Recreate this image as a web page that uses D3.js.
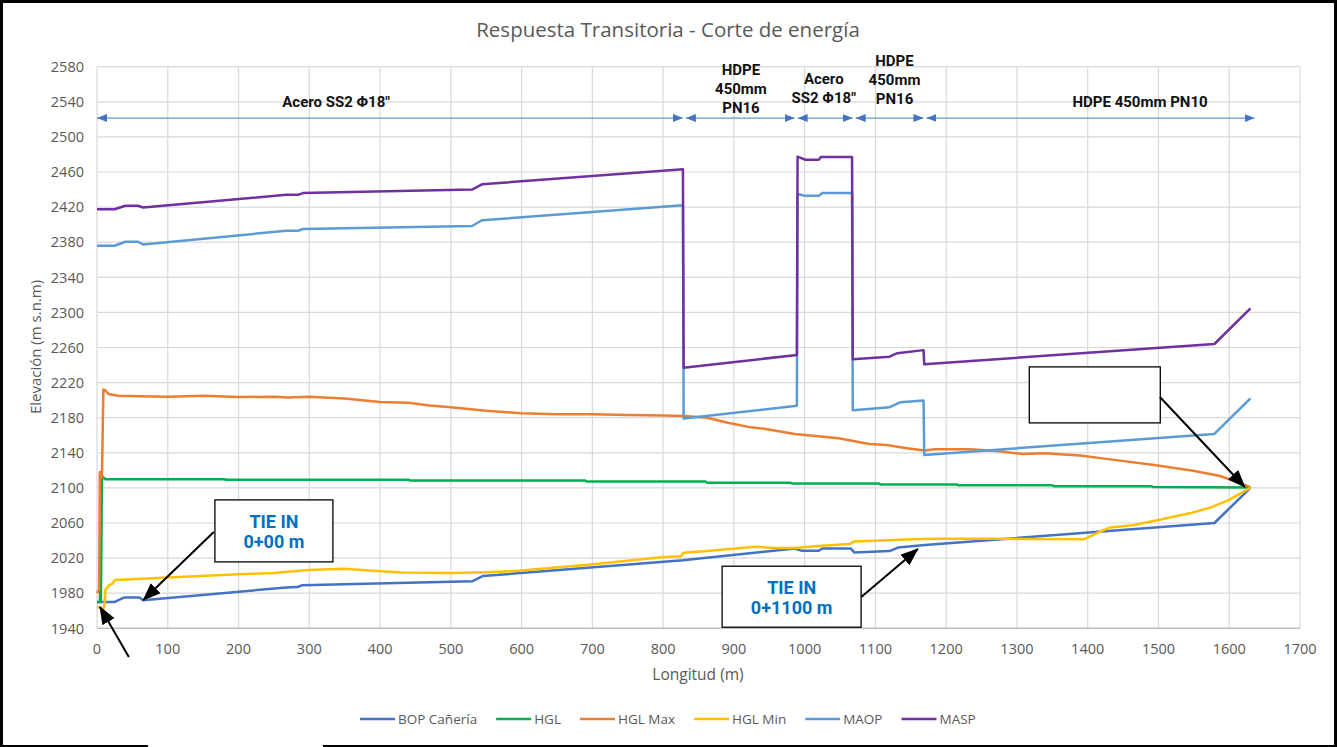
<!DOCTYPE html>
<html lang="es">
<head>
<meta charset="UTF-8">
<title>Respuesta Transitoria - Corte de energía</title>
<script src="https://d3js.org/d3.v7.min.js"></script>
<style>
  html, body { margin: 0; padding: 0; background: #000; }
  svg { display: block; }
  .tick-label { font-family: "Open Sans", "Noto Sans", sans-serif; font-size: 14.5px; fill: #595959; }
  .legend-label { font-family: "Open Sans", "Noto Sans", sans-serif; font-size: 13.5px; fill: #595959; }
  .note { font-family: "Liberation Sans Narrow", "Roboto", sans-serif; font-weight: bold; font-size: 15px; fill: #111; }
  .tie { font-family: "Liberation Sans Narrow", "Roboto", sans-serif; font-weight: bold; font-size: 18px; fill: #0070C0; }
</style>
</head>
<body>
<svg id="chart" width="1337" height="747"></svg>
<script>
// ---- data (longitud m, elevación m s.n.m) ----
const xTicks = d3.range(0, 1701, 100);
const yTicks = d3.range(1940, 2581, 40);

const bop = [[0,1970],[25,1970],[38,1975],[60,1975],[65,1972],[267,1986.5],[283,1987],[290,1989],[530,1993.5],[545,1999.5],
  [828,2017.5],[986,2031],[995,2028.5],[1020,2028.5],[1025,2031],[1065,2031],[1070,2026.5],[1120,2028],[1132,2032],
  [1170,2035],[1579,2060],[1630,2100]];

const hgl = [[0,1970],[4,1970],[4.5,1984],[5.5,1972],[7,2113],[12,2110],[180,2110],[182,2109.3],[440,2109.3],[442,2108.5],
  [690,2108.5],[692,2107.3],[860,2107.3],[862,2106],[980,2106],[982,2105],[1105,2105],[1107,2104],[1215,2104],[1217,2103],
  [1350,2103],[1352,2102],[1490,2102],[1492,2101],[1630,2100.5]];

const hglMax = [[0,1980],[3,1984],[4,2118],[6,2118],[7,2112],[9,2212],[12,2211],[16,2207],[30,2205],[60,2204.5],[100,2204],
  [150,2205],[200,2203.5],[250,2204],[270,2203],[300,2204],[320,2203],[350,2202],[400,2198],[440,2197],[470,2194],[500,2192],
  [550,2188],[600,2185],[650,2184],[700,2184],[750,2183],[800,2182.5],[830,2182],[862,2180],[893,2174],[924,2169],[943,2167.5],
  [986,2161.5],[1048,2156.5],[1091,2150],[1116,2149],[1147,2145],[1169,2142.5],[1184,2144],[1234,2144],[1271,2142],
  [1308,2138.5],[1339,2139.5],[1389,2137],[1432,2132.5],[1494,2126],[1549,2119.5],[1587,2113.5],[1614,2106],[1630,2100.5]];

const hglMin = [[0,1964],[4,1964],[7,1962],[10,1963],[12,1984],[17,1989],[22,1991],[25,1995],[50,1996],[100,1998],
  [200,2001.5],[250,2003],[298,2006.5],[349,2008],[400,2005],[431,2003.5],[500,2003],[550,2004],[595,2005.5],[702,2013],
  [797,2021],[825,2022],[829,2026],[862,2028],[930,2033],[955,2031.5],[986,2031.5],[1023,2034],[1063,2036],[1070,2039],
  [1154,2041.5],[1184,2042],[1277,2042],[1395,2041.5],[1417,2050],[1432,2055],[1463,2057.5],[1500,2063.5],[1544,2071],
  [1575,2078],[1599,2086],[1630,2100]];

const maop = [[0,2376],[25,2376],[40,2380.5],[58,2380.5],[65,2377.5],[267,2393],[284,2393],[291,2395],[530,2398.5],
  [544,2405],[828,2422],[829,2179],[989,2193.5],[990,2435],[1000,2433],[1020,2433],[1025,2436],[1067,2436],[1068,2188.5],
  [1120,2192],[1135,2197.5],[1168,2199.5],[1169,2137.5],[1579,2161.5],[1630,2202]];

const masp = [[0,2417.5],[25,2417.5],[40,2421.5],[58,2421.5],[65,2419.5],[267,2434],[284,2434],[291,2436],[530,2440],
  [544,2446],[828,2463],[829,2237],[989,2251.5],[990,2477.5],[1001,2474],[1020,2474],[1023,2477],[1067,2477],[1068,2246.5],
  [1120,2249.5],[1131,2253.5],[1168,2257],[1169,2241],[1579,2264],[1630,2304.5]];

const seriesNames = ["BOP Cañería", "HGL", "HGL Max", "HGL Min", "MAOP", "MASP"];
const seriesData = [bop, hgl, hglMax, hglMin, maop, masp];
const seriesColors = ["#4472C4", "#00B050", "#ED7D31", "#FFC000", "#5B9BD5", "#7030A0"];

// tramos de tubería
const spanBreaks = [0, 830, 988, 1070, 1170, 1638];
const spanLabels = [["Acero SS2 Φ18\""], ["HDPE", "450mm", "PN16"], ["Acero", "SS2 Φ18\""], ["HDPE", "450mm", "PN16"], ["HDPE 450mm PN10"]];
const spanLabelX = [338, 910, 1027, 1127, 1474];
const spanLabelTop = [2534, 2570.5, 2560, 2580.8, 2534];

// cuadros y flechas
const boxes = [
  { cx: 250, cy: 2051, w: 118, h: 62, lines: ["TIE IN", "0+00 m"] },
  { cx: 981.6, cy: 1976, w: 139, h: 61, lines: ["TIE IN", "0+1100 m"] },
  { cx: 1410, cy: 2206, w: 131, h: 56, lines: [] }
];
const arrows = [
  [[165, 2049.7], [65.5, 1972.2]],
  [[45, 1907.4], [4.2, 1964.3]],
  [[1080, 1975.7], [1160, 2030.4]],
  [[1502, 2203.6], [1622, 2101]]
];

// ---- layout ----
const svg = d3.select("#chart");

svg.append("rect").attr("x", 3).attr("y", 3).attr("width", 1331).attr("height", 742).attr("fill", "#fff");
svg.append("rect").attr("x", 148).attr("y", 744).attr("width", 175).attr("height", 3).attr("fill", "#fff");

const x = d3.scaleLinear().domain([0, 1700]).range([97, 1300]);
const y = d3.scaleLinear().domain([1940, 2580]).range([628.3, 66.7]);

const defs = svg.append("defs");
defs.append("marker").attr("id", "spanHead").attr("viewBox", "0 0 10 8")
  .attr("refX", 10).attr("refY", 4).attr("markerWidth", 10).attr("markerHeight", 8)
  .attr("markerUnits", "userSpaceOnUse").attr("orient", "auto-start-reverse")
  .append("path").attr("d", "M0,0L10,4L0,8Z").attr("fill", "#4472C4");
defs.append("marker").attr("id", "blackHead").attr("viewBox", "0 0 18 14")
  .attr("refX", 17).attr("refY", 7).attr("markerWidth", 18).attr("markerHeight", 14)
  .attr("markerUnits", "userSpaceOnUse").attr("orient", "auto")
  .append("path").attr("d", "M0,0L18,7L0,14Z").attr("fill", "#000");

// grid
svg.append("g").selectAll("line").data(xTicks).join("line")
  .attr("x1", d => x(d)).attr("x2", d => x(d)).attr("y1", y(2580)).attr("y2", y(1940))
  .attr("stroke", "#D9D9D9").attr("stroke-width", 1.2);
svg.append("g").selectAll("line").data(yTicks).join("line")
  .attr("x1", x(0)).attr("x2", x(1700)).attr("y1", d => y(d)).attr("y2", d => y(d))
  .attr("stroke", d => d === 1940 ? "#BFBFBF" : "#D9D9D9").attr("stroke-width", d => d === 1940 ? 1.5 : 1.2);

// axis labels
svg.append("g").selectAll("text").data(yTicks).join("text")
  .attr("class", "tick-label").attr("x", 84).attr("y", d => y(d)).attr("dy", "0.36em")
  .attr("text-anchor", "end").text(d => d);
svg.append("g").selectAll("text").data(xTicks).join("text")
  .attr("class", "tick-label").attr("x", d => x(d)).attr("y", 654)
  .attr("text-anchor", "middle").text(d => d);

svg.append("text").attr("x", 668).attr("y", 37).attr("text-anchor", "middle")
  .attr("font-family", "Open Sans, Noto Sans, sans-serif").attr("font-size", 20.5).attr("fill", "#595959")
  .text("Respuesta Transitoria - Corte de energía");
svg.append("text").attr("x", 698).attr("y", 680).attr("text-anchor", "middle")
  .attr("font-family", "Open Sans, Noto Sans, sans-serif").attr("font-size", 15.5).attr("fill", "#595959")
  .text("Longitud (m)");
svg.append("text").attr("transform", "translate(41,347) rotate(-90)").attr("text-anchor", "middle")
  .attr("font-family", "Open Sans, Noto Sans, sans-serif").attr("font-size", 15).attr("fill", "#595959")
  .text("Elevación (m s.n.m)");

// series
const line = d3.line().x(d => x(d[0])).y(d => y(d[1]));
svg.append("g").selectAll("path").data(seriesData).join("path")
  .attr("d", line).attr("fill", "none")
  .attr("stroke", (d, i) => seriesColors[i]).attr("stroke-width", 2.5)
  .attr("stroke-linejoin", "round");

// span arrows
const spanY = y(2521.5);
const spans = d3.pairs(spanBreaks);
svg.append("g").selectAll("line").data(spans).join("line")
  .attr("x1", d => x(d[0]) + (d[0] === 0 ? 0 : 1.5)).attr("x2", d => x(d[1]) - 1.5)
  .attr("y1", spanY).attr("y2", spanY)
  .attr("stroke", "#5B9BD5").attr("stroke-width", 1.3)
  .attr("marker-start", "url(#spanHead)").attr("marker-end", "url(#spanHead)");

spanLabels.forEach((lines, i) => {
  const t = svg.append("text").attr("class", "note").attr("text-anchor", "middle")
    .attr("x", x(spanLabelX[i])).attr("y", y(spanLabelTop[i]));
  lines.forEach((s, j) => t.append("tspan").attr("x", x(spanLabelX[i])).attr("dy", j === 0 ? 0 : 19).text(s));
});

// boxes
const bg = svg.append("g").selectAll("g").data(boxes).join("g");
bg.append("rect")
  .attr("x", d => x(d.cx) - d.w / 2).attr("y", d => y(d.cy) - d.h / 2)
  .attr("width", d => d.w).attr("height", d => d.h)
  .attr("fill", "#fff").attr("stroke", "#000").attr("stroke-width", 1.3);
bg.each(function(d) {
  const g = d3.select(this);
  d.lines.forEach((s, j) => {
    g.append("text").attr("class", "tie").attr("text-anchor", "middle")
      .attr("x", x(d.cx)).attr("y", y(d.cy) - 3 + j * 20).text(s);
  });
});

// arrows
svg.append("g").selectAll("line").data(arrows).join("line")
  .attr("x1", d => x(d[0][0])).attr("y1", d => y(d[0][1]))
  .attr("x2", d => x(d[1][0])).attr("y2", d => y(d[1][1]))
  .attr("stroke", "#000").attr("stroke-width", 2)
  .attr("marker-end", "url(#blackHead)");

// legend
const leg = svg.append("g").attr("transform", "translate(0,719)");
let lx = 360;
seriesNames.forEach((name, i) => {
  leg.append("line").attr("x1", lx).attr("x2", lx + 35).attr("y1", 0).attr("y2", 0)
    .attr("stroke", seriesColors[i]).attr("stroke-width", 2.6);
  const t = leg.append("text").attr("class", "legend-label").attr("x", lx + 38).attr("y", 0).attr("dy", "0.35em").text(name);
  lx += 38 + t.node().getComputedTextLength() + 19;
});
</script>
</body>
</html>
